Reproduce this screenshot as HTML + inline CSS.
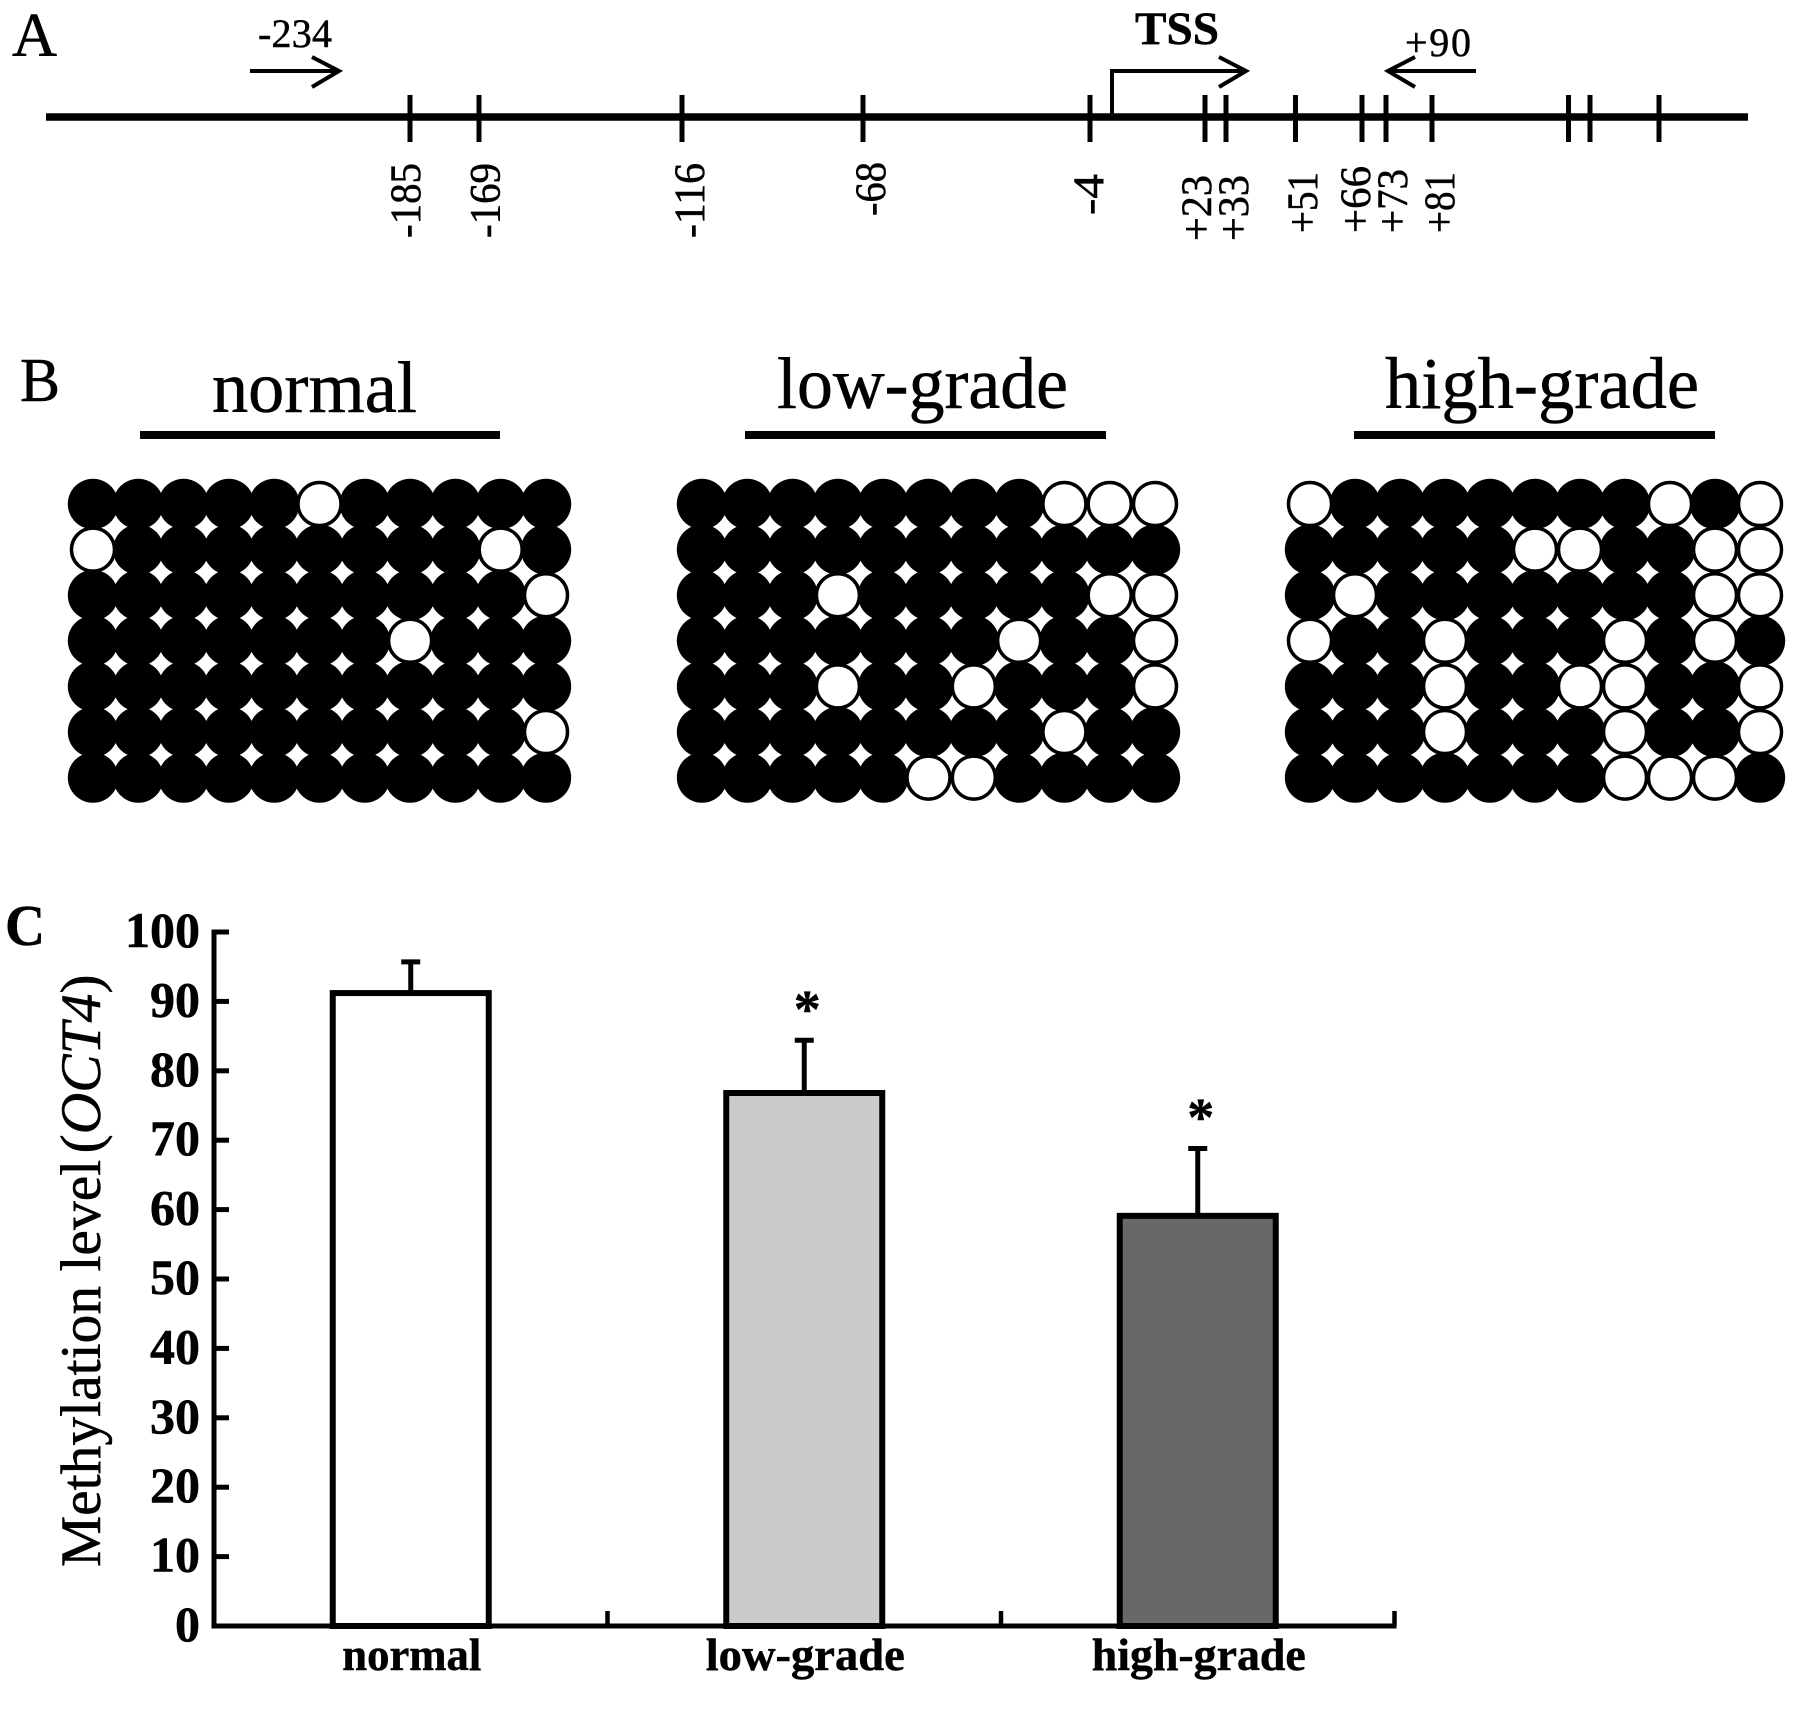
<!DOCTYPE html>
<html lang="en">
<head>
<meta charset="utf-8">
<title>OCT4 promoter methylation figure</title>
<style>
html,body{margin:0;padding:0;background:#fff;}
svg{display:block;}
text{font-family:"Liberation Serif",serif;fill:#000;stroke:#000;stroke-width:0.5px;}
</style>
</head>
<body>
<svg id="fig" xmlns="http://www.w3.org/2000/svg" width="1795" height="1710" viewBox="0 0 1795 1710">
<rect x="0" y="0" width="1795" height="1710" fill="#fff"/>

<text x="12" y="56" font-size="62" textLength="45" lengthAdjust="spacingAndGlyphs">A</text>
<text x="20" y="401" font-size="62" textLength="40" lengthAdjust="spacingAndGlyphs">B</text>
<text x="5" y="945" font-size="58" font-weight="bold" textLength="40" lengthAdjust="spacingAndGlyphs">C</text>

<g>
<line x1="46" y1="117" x2="1748" y2="117" stroke="#000" stroke-width="7.5"/>
<g stroke="#000" stroke-width="5">
<line x1="410" y1="95" x2="410" y2="142"/>
<line x1="479" y1="95" x2="479" y2="142"/>
<line x1="682" y1="95" x2="682" y2="142"/>
<line x1="863" y1="95" x2="863" y2="142"/>
<line x1="1090" y1="95" x2="1090" y2="142"/>
<line x1="1205" y1="95" x2="1205" y2="142"/>
<line x1="1226" y1="95" x2="1226" y2="142"/>
<line x1="1295.5" y1="95" x2="1295.5" y2="142"/>
<line x1="1362" y1="95" x2="1362" y2="142"/>
<line x1="1386" y1="95" x2="1386" y2="142"/>
<line x1="1432" y1="95" x2="1432" y2="142"/>
<line x1="1568.5" y1="95" x2="1568.5" y2="142"/>
<line x1="1590" y1="95" x2="1590" y2="142"/>
<line x1="1659" y1="95" x2="1659" y2="142"/>
</g>
<g font-size="43">
<text transform="translate(420,238) rotate(-90)" textLength="75" lengthAdjust="spacingAndGlyphs">-185</text>
<text transform="translate(499.5,238) rotate(-90)" textLength="75" lengthAdjust="spacingAndGlyphs">-169</text>
<text transform="translate(704,238) rotate(-90)" textLength="75" lengthAdjust="spacingAndGlyphs">-116</text>
<text transform="translate(885,216) rotate(-90)" textLength="54" lengthAdjust="spacingAndGlyphs">-68</text>
<text transform="translate(1103,215) rotate(-90)" textLength="41" lengthAdjust="spacingAndGlyphs">-4</text>
<text transform="translate(1211,241) rotate(-90)" textLength="66" lengthAdjust="spacingAndGlyphs">+23</text>
<text transform="translate(1248,241) rotate(-90)" textLength="66" lengthAdjust="spacingAndGlyphs">+33</text>
<text transform="translate(1317,233) rotate(-90)" textLength="61" lengthAdjust="spacingAndGlyphs">+51</text>
<text transform="translate(1370,233) rotate(-90)" textLength="67" lengthAdjust="spacingAndGlyphs">+66</text>
<text transform="translate(1407,233) rotate(-90)" textLength="64" lengthAdjust="spacingAndGlyphs">+73</text>
<text transform="translate(1454,233) rotate(-90)" textLength="61" lengthAdjust="spacingAndGlyphs">+81</text>
</g>
<text x="258" y="47" font-size="40" textLength="74" lengthAdjust="spacing">-234</text>
<path d="M250 71H338M312 57L339 71L312 87" fill="none" stroke="#000" stroke-width="4"/>
<text x="1135" y="44" font-size="47" font-weight="bold" textLength="84" lengthAdjust="spacingAndGlyphs">TSS</text>
<path d="M1112 117V71H1245M1219 57L1246 71L1219 87" fill="none" stroke="#000" stroke-width="4"/>
<text x="1405" y="56" font-size="40" textLength="66" lengthAdjust="spacing">+90</text>
<path d="M1476 71H1389M1415 57L1388 71L1415 87" fill="none" stroke="#000" stroke-width="4"/>
</g>

<g>
<text x="212" y="412" font-size="73" textLength="205" lengthAdjust="spacingAndGlyphs">normal</text>
<rect x="140" y="431" width="360" height="8" fill="#000"/>
<text x="777" y="408" font-size="73" textLength="291" lengthAdjust="spacingAndGlyphs">low-grade</text>
<rect x="745" y="431" width="361" height="8" fill="#000"/>
<text x="1385" y="408" font-size="73" textLength="314" lengthAdjust="spacingAndGlyphs">high-grade</text>
<rect x="1354" y="431" width="361" height="8" fill="#000"/>
</g>

<g id="dots"></g>

<text transform="translate(100,1567) rotate(-90)" font-size="57.5">Methylation level <tspan dx="-8">(</tspan><tspan font-style="italic">OCT4</tspan>)</text>
<g id="chart"></g>
</svg>

<script>
// Panel B: one string per clone, 1 = methylated CpG, 0 = unmethylated CpG
const normalClones = ['11111011111','01111111101','11111111110','11111110111','11111111111','11111111110','11111111111'];
const lowGradeClones = ['11111111000','11111111111','11101111100','11111110110','11101101110','11111111011','11111001111'];
const highGradeClones = ['01111111010','11111001100','10111111100','01101110101','11101100110','11101110110','11111110001'];

// Panel C values
const categories = ['normal','low-grade','high-grade'];
const means = [91.2,76.8,59.1];
const errors = [4.5,7.6,9.7];
const significance = ['','*','*'];
const yTickLabels = [0,10,20,30,40,50,60,70,80,90,100];
const barFills = ['#ffffff','#cbcbcb','#686868'];
const xLabelWidths = [139,199,214];

const NS = 'http://www.w3.org/2000/svg';
function make(tag, attrs, parent) {
  const el = document.createElementNS(NS, tag);
  for (const k in attrs) el.setAttribute(k, attrs[k]);
  parent.appendChild(el);
  return el;
}

const dotsRoot = document.getElementById('dots');
const rowY = r => 504 + r * 45.6;
function drawMatrix(clones, name, x0, step) {
  const g = make('g', {}, dotsRoot);
  
  
  const pass = [];
  clones.forEach((row, r) => row.split('').forEach((v, c) => pass.push({v: +v, r, c})));
  pass.sort((a, b) => b.v - a.v);
  pass.forEach(d => {
    const dot = make('circle', {
      cx: x0 + d.c * step,
      cy: rowY(d.r),
      r: d.v ? 25.2 : 21.5,
      fill: d.v ? '#000' : '#fff',
      stroke: '#000',
      'stroke-width': d.v ? 0 : 3.5
    }, g);
    
    
  });
}
drawMatrix(normalClones, 'normal', 93, 45.3);
drawMatrix(lowGradeClones, 'low-grade', 702, 45.3);
drawMatrix(highGradeClones, 'high-grade', 1310, 45);

const chart = document.getElementById('chart');
const yAxisX = 214;
const categoryStep = 393.5;
const y = v => 1626 - v * 6.94;
const x = i => yAxisX + (i + 0.5) * categoryStep;
const barWidth = 156;

categories.forEach((cat, i) => {
  const rect = make('rect', {
    x: x(i) - barWidth / 2,
    y: y(means[i]),
    width: barWidth,
    height: y(0) - y(means[i]),
    fill: barFills[i],
    stroke: '#000',
    'stroke-width': 6
  }, chart);
  
  

  const stem = make('line', {
    x1: x(i), x2: x(i),
    y1: y(means[i]), y2: y(means[i] + errors[i]),
    stroke: '#000', 'stroke-width': 5
  }, chart);
  
  

  const cap = make('line', {
    x1: x(i) - 9.5, x2: x(i) + 9.5,
    y1: y(means[i] + errors[i]), y2: y(means[i] + errors[i]),
    stroke: '#000', 'stroke-width': 5
  }, chart);
  
  

  if (significance[i]) {
    const star = make('text', {
      x: x(i) + 3,
      y: y(means[i] + errors[i]) - 13,
      'font-size': 54,
      'font-weight': 'bold',
      'text-anchor': 'middle'
    }, chart);
    star.textContent = significance[i];
    
    
  }

  const label = make('text', {
    x: x(i) + 1,
    y: 1670,
    'font-size': 46,
    'font-weight': 'bold',
    'text-anchor': 'middle',
    textLength: xLabelWidths[i],
    lengthAdjust: 'spacingAndGlyphs'
  }, chart);
  label.textContent = cat;
  
  

  const xTick = make('line', {
    x1: yAxisX + (i + 1) * categoryStep,
    x2: yAxisX + (i + 1) * categoryStep,
    y1: y(0), y2: y(0) - 15,
    stroke: '#000', 'stroke-width': 4.5
  }, chart);
  
  
});

yTickLabels.forEach(v => {
  const tick = make('line', {
    x1: yAxisX, x2: yAxisX + 15,
    y1: y(v), y2: y(v),
    stroke: '#000', 'stroke-width': 5
  }, chart);
  
  

  const t = make('text', {
    x: 200,
    y: y(v) + 15,
    'font-size': 50,
    'font-weight': 'bold',
    'text-anchor': 'end'
  }, chart);
  t.textContent = String(v);
  
  
});

const yAxis = make('line', {
  x1: yAxisX, x2: yAxisX,
  y1: y(100) - 2.5, y2: y(0) + 2.5,
  stroke: '#000', 'stroke-width': 5
}, chart);



const xAxis = make('line', {
  x1: yAxisX, x2: yAxisX + categories.length * categoryStep + 2,
  y1: y(0), y2: y(0),
  stroke: '#000', 'stroke-width': 5
}, chart);


</script>
</body>
</html>
